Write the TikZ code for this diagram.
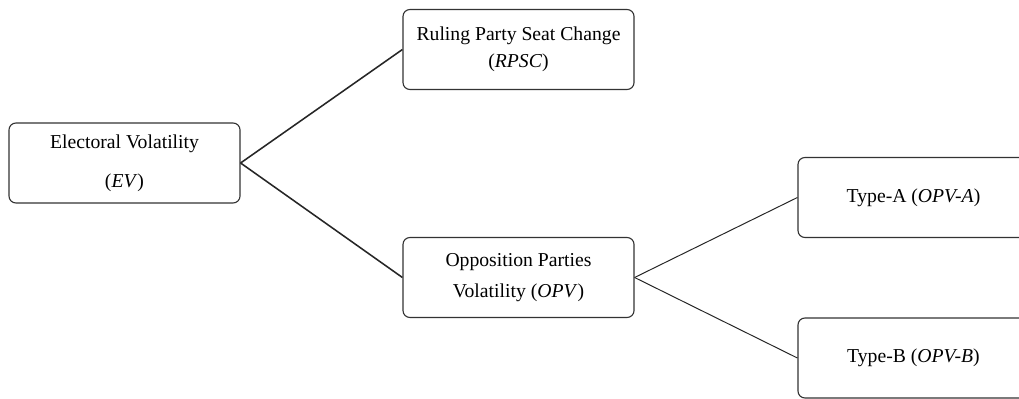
\documentclass[tikz,border=0pt]{standalone}
\usepackage{fontspec}
\setmainfont{Liberation Serif}
\usetikzlibrary{positioning}

\begin{document}
\begin{tikzpicture}[x=0.025cm,y=-0.025cm,
  box/.style={rectangle,rounded corners=5pt,draw=black!80,line width=0.8pt,fill=white,
    minimum width=5.775cm,minimum height=2cm,inner sep=2pt,align=center,
    font=\fontsize{14}{20}\selectfont},
  link/.style={black!85,line width=1.1pt},
  sublink/.style={black!85,line width=0.7pt},
]
\clip (0,0) rectangle (1019,399);
\fill[white] (0,0) rectangle (1019,399);
% ---------------- level 1 ----------------
\coordinate (ev0) at (124.5,163);
\node[box,font=\fontsize{14}{28}\selectfont] (ev) at (ev0) {Electoral Volatility\\(\textit{EV})};

% ---------------- level 2 ----------------
\coordinate (rpsc0) at (518.5,49.5);
\coordinate (opv0) at (518.5,277.5);
\node[box,font=\fontsize{14}{19}\selectfont] (rpsc) at (rpsc0) {Ruling Party Seat Change\\(\textit{RPSC})};
\node[box,font=\fontsize{14}{21.5}\selectfont] (opv) at (opv0) {Opposition Parties\\Volatility (\textit{OPV})};

% ---------------- level 3 ----------------
\coordinate (ta0) at (913.5,197.5);
\coordinate (tb0) at (913.5,358);
\node[box] (typea) at (ta0) {Type-A (\textit{OPV-A})};
\node[box] (typeb) at (tb0) {Type-B (\textit{OPV-B})};

% ---------------- links ----------------
\draw[link] (ev.east) -- (rpsc.west);
\draw[link] (ev.east) -- (opv.west);
\draw[sublink] (opv.east) -- (typea.west);
\draw[sublink] (opv.east) -- (typeb.west);
\end{tikzpicture}
\end{document}
